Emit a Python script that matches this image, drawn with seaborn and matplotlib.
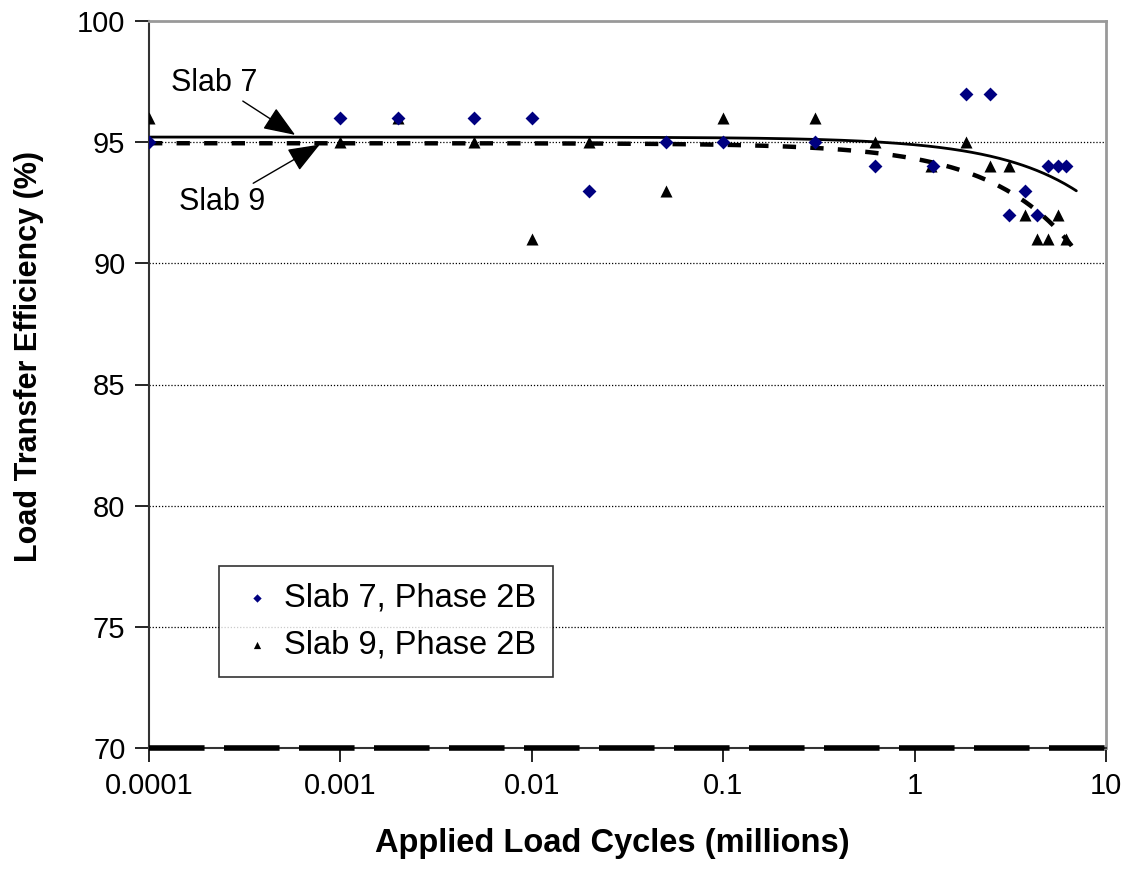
import numpy as np
import pandas as pd
import matplotlib
matplotlib.use("Agg")
import matplotlib.pyplot as plt
import seaborn as sns

# ---- data ----
slab7_x = [0.0001, 0.001, 0.002, 0.005, 0.01, 0.02, 0.05, 0.1, 0.3, 0.62, 1.25,
           1.85, 2.47, 3.1, 3.77, 4.35, 5.0, 5.6, 6.2]
slab7_y = [95, 96, 96, 96, 96, 93, 95, 95, 95, 94, 94,
           97, 97, 92, 93, 92, 94, 94, 94]
slab9_x = [0.0001, 0.001, 0.002, 0.005, 0.01, 0.02, 0.05, 0.1, 0.3, 0.62, 1.22,
           1.85, 2.47, 3.1, 3.77, 4.35, 5.0, 5.6, 6.2]
slab9_y = [96, 95, 96, 95, 91, 95, 93, 96, 96, 95, 94,
           95, 94, 94, 92, 91, 91, 92, 91]
series_labels = ["Slab 7, Phase 2B", "Slab 9, Phase 2B"]
y_ticks = [70, 75, 80, 85, 90, 95, 100]
x_ticks = [0.0001, 0.001, 0.01, 0.1, 1, 10]
x_ticklabels = ["0.0001", "0.001", "0.01", "0.1", "1", "10"]

sns.set_theme(style="white")
plt.rcParams["font.family"] = ["Liberation Sans", "DejaVu Sans"]
plt.rcParams["text.color"] = "black"
plt.rcParams["axes.labelcolor"] = "black"

fig = plt.figure(figsize=(11.33, 8.71), dpi=100)
ax = fig.add_axes([149/1133, 1-748/871, (1106-149)/1133, (748-21)/871])

df7 = pd.DataFrame({"x": slab7_x, "y": slab7_y})
df9 = pd.DataFrame({"x": slab9_x, "y": slab9_y})

# linear trend lines (as Excel draws them on a log axis)
xs = np.geomspace(min(slab7_x), 7.0, 400)
c7 = np.polyfit(slab7_x, slab7_y, 1)
c9 = np.polyfit(slab9_x, slab9_y, 1)
ax.plot(xs, np.polyval(c7, xs), color="black", lw=2.0, zorder=2)
ax.plot(xs, np.polyval(c9, xs), color="black", lw=3.2, dashes=(3.0, 3.2), zorder=2)

sns.scatterplot(data=df7, x="x", y="y", marker="D", s=50, color="#000080",
                edgecolor="#000080", linewidth=0, ax=ax, label=series_labels[0], zorder=4)
sns.scatterplot(data=df9, x="x", y="y", marker="^", s=75, color="black",
                edgecolor="black", linewidth=0, ax=ax, label=series_labels[1], zorder=3)

# heavy dashed line along 70
ax.axhline(70, color="black", lw=4, dashes=(10, 3.5), zorder=3, clip_on=False)

ax.set_xscale("log")
ax.set_xlim(0.0001, 10)
ax.set_ylim(70, 100)
ax.set_xticks(x_ticks)
ax.set_xticklabels(x_ticklabels)
ax.minorticks_off()
ax.set_yticks(y_ticks)
ax.tick_params(axis="both", labelsize=21, colors="black", length=10, width=1.2,
               direction="out", bottom=True, left=True, pad=7)
for v in [75, 80, 85, 90, 95]:
    ax.axhline(v, color="black", lw=0.9, ls=(0, (1, 1.5)), zorder=1)

for s in ["left", "bottom"]:
    ax.spines[s].set_color("#333333")
    ax.spines[s].set_linewidth(1.5)
for s in ["top", "right"]:
    ax.spines[s].set_color("#999999")
    ax.spines[s].set_linewidth(2)

ax.set_xlabel("Applied Load Cycles (millions)", fontsize=23.5, fontweight="bold")
ax.set_ylabel("Load Transfer Efficiency (%)", fontsize=22, fontweight="bold")
ax.xaxis.set_label_coords((612-149)/957, (748-843)/727)
ax.yaxis.set_label_coords((29-149)/957, (748-356)/727)
ax.xaxis.label.set_va("center")
ax.yaxis.label.set_va("center")

leg = ax.legend(loc="upper left", bbox_to_anchor=((219-149)/957, (748-566)/727),
                fontsize=23.5, frameon=True, fancybox=False, edgecolor="black",
                handletextpad=0.2, markerscale=0.6, borderpad=0.5, labelspacing=0.5,
                handlelength=1.3, borderaxespad=0)
leg.get_frame().set_linewidth(1.2)

arrowprops = dict(arrowstyle="-|>,head_length=0.9,head_width=0.35", color="black", lw=1.0,
                  shrinkA=0, shrinkB=0)
ax.annotate("Slab 7", xy=(0.00058, 95.3), xytext=(0.00022, 97.45), fontsize=22,
            ha="center", va="center", arrowprops=arrowprops)
ax.annotate("Slab 9", xy=(0.00078, 94.9), xytext=(0.00024, 92.55), fontsize=22,
            ha="center", va="center", arrowprops=arrowprops)

fig.savefig("out.png", dpi=100)
